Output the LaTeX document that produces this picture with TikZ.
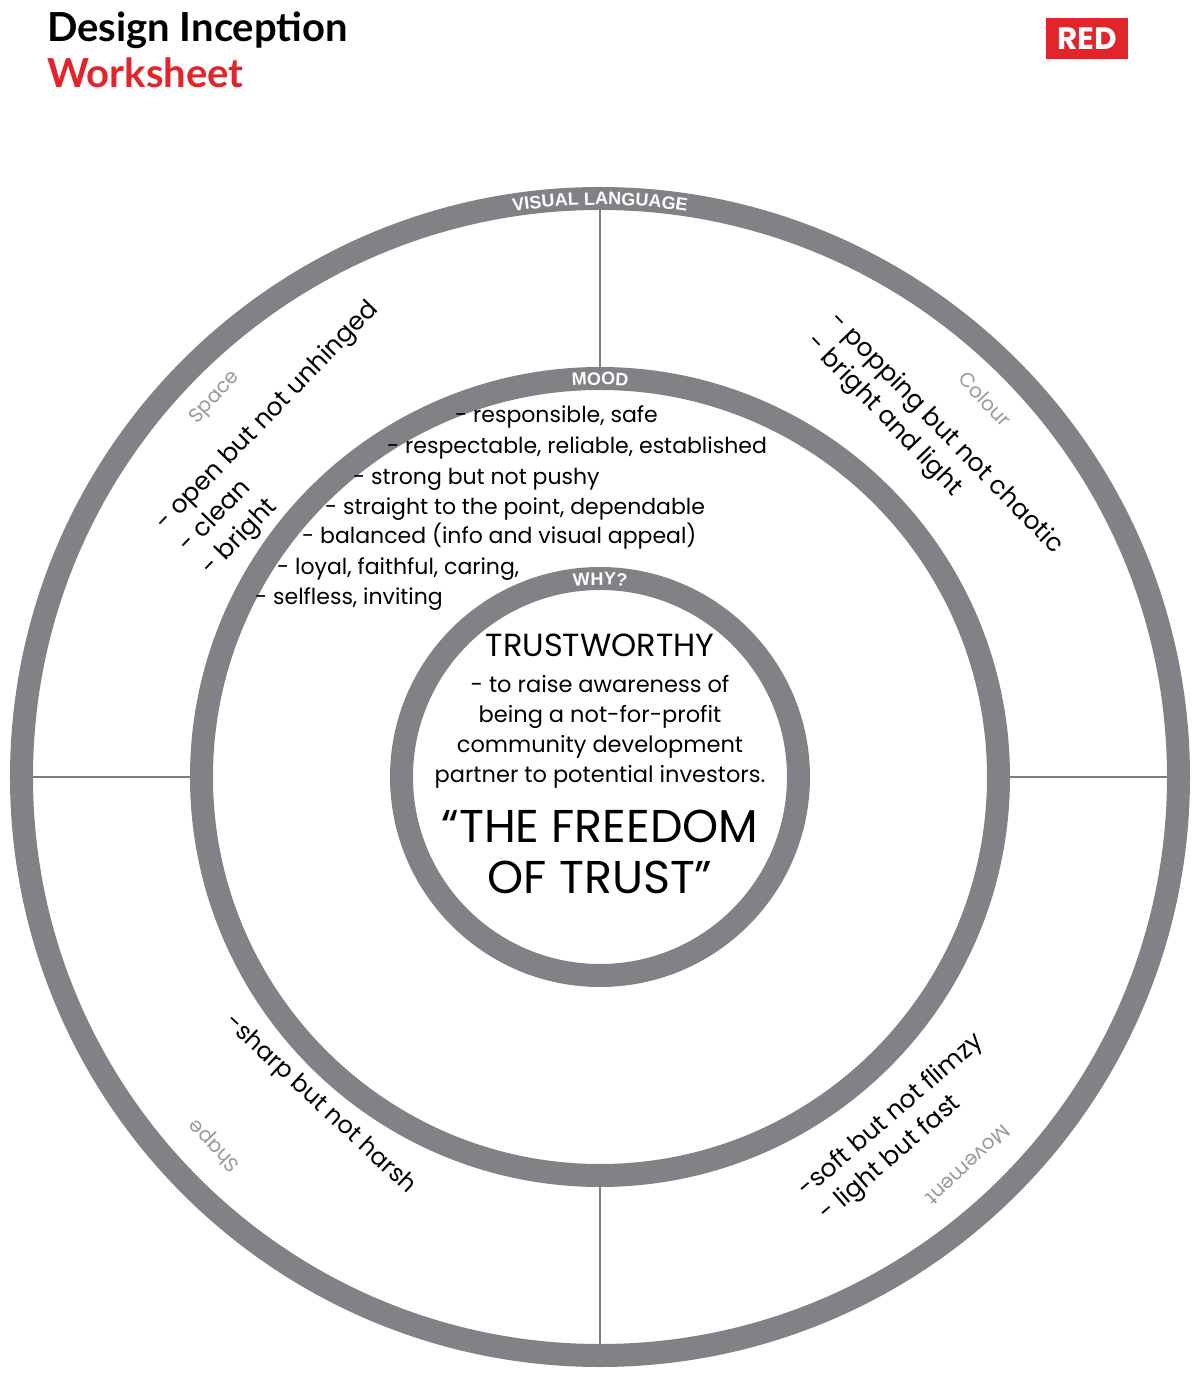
\documentclass[tikz,border=0pt]{standalone}
\usepackage{fontspec}
\setmainfont{Poppins}
\newfontfamily\titlefont{Lato}
\newfontfamily\tagfont{Liberation Sans}
\usetikzlibrary{decorations.text}
\definecolor{ringgray}{HTML}{808285}
\definecolor{linegray}{HTML}{7B7D80}
\definecolor{labelgray}{HTML}{9A9A9A}
\definecolor{redbrand}{HTML}{E2242B}
\newcommand\ringfont{\tagfont\bfseries\fontsize{18}{18}\selectfont}

\begin{document}
\begin{tikzpicture}[x=1pt, y=1pt,
    ring/.style={draw=ringgray, line width=23pt},
    divider/.style={draw=linegray, line width=2.5pt},
    ring label/.style={decorate, decoration={text along path, text align=center, text color=white}},
    mood line/.style={anchor=base west, inner sep=0pt, font=\fontsize{22}{30}\selectfont},
    why line/.style={anchor=base, inner sep=0pt, font=\fontsize{22.5}{30}\selectfont},
    note/.style={inner sep=0pt, align=left, font=\fontsize{25}{32}\selectfont},
    area/.style={inner sep=0pt, text=labelgray, font=\fontsize{20}{24}\selectfont}
]
\useasboundingbox (-600,-598) rectangle (600,777);

% header
\node[anchor=base west, inner sep=0pt, font=\titlefont\bfseries\fontsize{40}{40}\selectfont] (title) at (-553,735) {Design Inception};
\node[anchor=base west, inner sep=0pt, text=redbrand, font=\titlefont\bfseries\fontsize{40}{40}\selectfont] (subtitle) at (-553,689) {Worksheet};
\node[fill=redbrand, text=white, minimum width=82pt, minimum height=41pt, inner sep=0pt, font=\bfseries\fontsize{31}{31}\selectfont] (logo) at (487,738.5) {RED};

% rings
\coordinate (c) at (0,0);
\draw[ring] (c) circle[radius=578.5pt];
\draw[ring] (c) circle[radius=398.5pt];
\draw[ring] (c) circle[radius=198.5pt];

\path[ring label, decoration={text={|\ringfont|VISUAL LANGUAGE}}] (160:572) arc[start angle=160, end angle=20, radius=572pt];
\path[ring label, decoration={text={|\ringfont|MOOD}}] (150:392) arc[start angle=150, end angle=30, radius=392pt];
\path[ring label, decoration={text={|\ringfont|WHY?}}] (140:192) arc[start angle=140, end angle=40, radius=192pt];

% dividers
\coordinate (on) at (90:567);
\coordinate (os) at (270:567);
\coordinate (ow) at (180:567);
\coordinate (oe) at (0:567);
\coordinate (mn) at (90:410);
\coordinate (ms) at (270:410);
\coordinate (mw) at (180:410);
\coordinate (me) at (0:410);
\draw[divider] (on) -- (mn);
\draw[divider] (os) -- (ms);
\draw[divider] (ow) -- (mw);
\draw[divider] (oe) -- (me);

% visual language
\node[area, rotate=48] (space) at (-385,379) {Space};
\node[note, rotate=46] (spacenote) at (-309,338) {- open but not unhinged\\- clean\\- bright};
\node[area, rotate=-47] (colour) at (385,378) {Colour};
\node[note, rotate=-46] (colournote) at (334,332) {- popping but not chaotic\\- bright and light};
\node[area, rotate=134] (shape) at (-385,-368) {Shape};
\node[note, rotate=-43, font=\fontsize{24}{32}\selectfont] (shapenote) at (-280,-328) {-sharp but not harsh};
\node[area, rotate=-137] (movement) at (368,-388) {Movement};
\node[note, rotate=41] (movementnote) at (302,-351) {-soft but not flimzy\\- light but fast};

% mood
\node[mood line] (m1) at (-145,354) {- responsible, safe};
\node[mood line] (m2) at (-213,323) {- respectable, reliable, established};
\node[mood line] (m3) at (-247,292) {- strong but not pushy};
\node[mood line] (m4) at (-275,262) {- straight to the point, dependable};
\node[mood line] (m5) at (-298,233) {- balanced (info and visual appeal)};
\node[mood line] (m6) at (-323,202) {- loyal, faithful, caring,};
\node[mood line] (m7) at (-345,172) {- selfless, inviting};

% why
\node[why line, font=\fontsize{32}{30}\selectfont] (trust) at (0,120) {TRUSTWORTHY};
\node[why line] (w1) at (0,84) {- to raise awareness of};
\node[why line] (w2) at (0,54) {being a not-for-profit};
\node[why line] (w3) at (0,24) {community development};
\node[why line] (w4) at (0,-6) {partner to potential investors.};
\node[why line, font=\fontsize{46}{50}\selectfont] (q1) at (0,-66) {“THE FREEDOM};
\node[why line, font=\fontsize{46}{50}\selectfont] (q2) at (0,-116) {OF TRUST”};
\end{tikzpicture}
\end{document}
